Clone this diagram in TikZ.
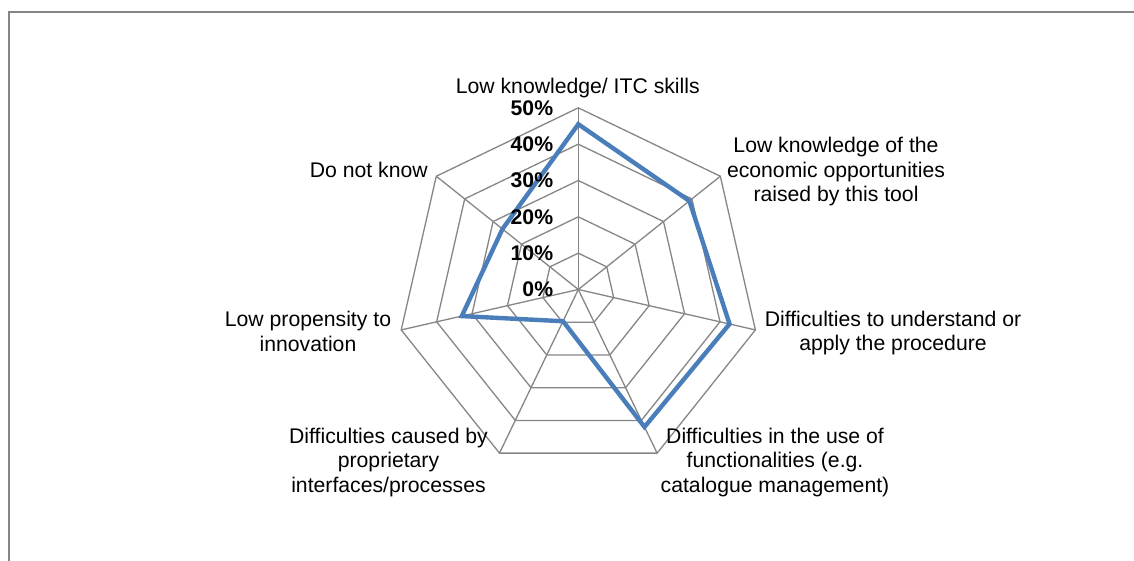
\documentclass[tikz,border=0pt]{standalone}
\usepackage{fontspec}
\setmainfont{Liberation Sans}
\begin{document}
\begin{tikzpicture}[x=0.5pt,y=0.5pt,
  gridline/.style={draw={rgb,255:red,134;green,134;blue,134},line width=0.65pt},
  series/.style={draw={rgb,255:red,74;green,126;blue,187},line width=2.2pt,line join=miter},
  framebox/.style={draw={rgb,255:red,134;green,134;blue,134},line width=1pt},
  cat/.style={inner sep=0pt,anchor=base,font=\fontsize{10.6}{12.15}\selectfont},
  pct/.style={inner sep=0pt,anchor=east,font=\fontsize{10.6}{12.15}\selectfont\bfseries}]
\useasboundingbox (0,0) rectangle (1134,561);
\clip (0,0) rectangle (1134,561);
\fill[white] (0,0) rectangle (1134,561);
\draw[framebox] (8.5,-20) rectangle (1160,549);
\coordinate (C) at (578.3,271.5);
\begin{scope}[shift={(C)}]
  % rings
  \foreach \l in {1,...,5}{
    \draw[gridline] (90:{\l*36.33})
      \foreach \k in {1,...,6}{ -- ({90-\k*360/7}:{\l*36.33}) } -- cycle;
  }
  % spokes
  \foreach \k in {0,...,6}{
    \coordinate (v\k) at ({90-\k*360/7}:{5*36.33});
    \draw[gridline] (0,0) -- (v\k);
  }
  % data
  \coordinate (d0) at ({90-0*360/7}:{4.55*36.33});
  \coordinate (d1) at ({90-1*360/7}:{3.91*36.33});
  \coordinate (d2) at ({90-2*360/7}:{4.27*36.33});
  \coordinate (d3) at ({90-3*360/7}:{4.20*36.33});
  \coordinate (d4) at ({90-4*360/7}:{0.97*36.33});
  \coordinate (d5) at ({90-5*360/7}:{3.29*36.33});
  \coordinate (d6) at ({90-6*360/7}:{2.67*36.33});
\end{scope}
\draw[series] (d0) -- (d1) -- (d2) -- (d3) -- (d4) -- (d5) -- (d6) -- cycle;
% axis labels
\foreach \l/\t in {0/0\%,1/10\%,2/20\%,3/30\%,4/40\%,5/50\%}{
  \node[pct] (p\l) at (553.5,{271.5+\l*36.33}) {\t};
}
% category labels
\node[cat] (c0) at (577.8,467.7) {Low knowledge/ ITC skills};
\node[cat] (c1) at (836,408) {\begin{tabular}[t]{@{}c@{}}Low knowledge of the\\economic opportunities\\raised by this tool\end{tabular}};
\node[cat] (c2) at (893,234.3) {\begin{tabular}[t]{@{}c@{}}Difficulties to understand or\\apply the procedure\end{tabular}};
\node[cat] (c3) at (775,117.5) {\begin{tabular}[t]{@{}c@{}}Difficulties in the use of\\functionalities (e.g.\\catalogue management)\end{tabular}};
\node[cat] (c4) at (388.5,117.5) {\begin{tabular}[t]{@{}c@{}}Difficulties caused by\\proprietary\\interfaces/processes\end{tabular}};
\node[cat] (c5) at (308,234) {\begin{tabular}[t]{@{}c@{}}Low propensity to\\innovation\end{tabular}};
\node[cat] (c6) at (368.8,383.5) {Do not know};
\end{tikzpicture}
\end{document}
